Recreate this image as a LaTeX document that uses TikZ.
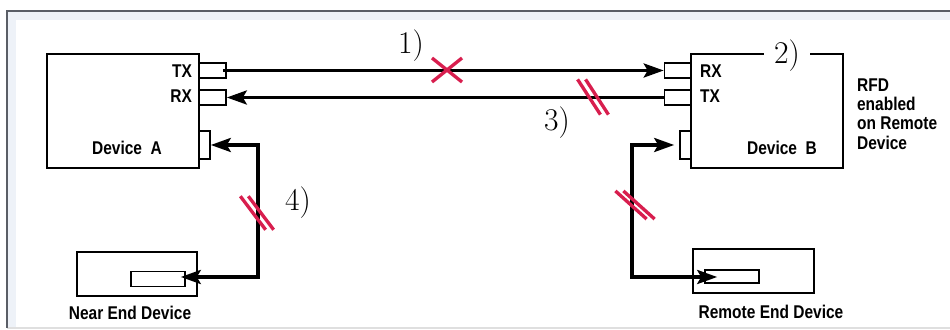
\documentclass[tikz,border=0pt]{standalone}
\usepackage{fontspec}
\usepackage{xcolor}
\usepackage{tikz}
\usetikzlibrary{arrows.meta}
\newfontfamily\lblfont[FakeStretch=0.84]{Liberation Sans}
\definecolor{framegray}{HTML}{5A5E66}
\definecolor{bandblue}{HTML}{EEF2F8}
\definecolor{cutred}{HTML}{D81E4E}

\tikzset{
  box/.style={draw=black, line width=0.9pt, inner sep=0pt},
  port/.style={box, minimum width=0.54cm, minimum height=0.30cm},
  auxport/.style={box, minimum width=0.22cm, minimum height=0.56cm},
  wire/.style={line width=2pt, >={Stealth[length=0.40cm,width=0.28cm,inset=0.08cm]}},
  cut/.style={draw=cutred, line width=1.9pt},
  lbl/.style={font=\lblfont\bfseries\fontsize{10.5}{11}\selectfont, inner sep=1pt},
  num/.style={font=\fontsize{18}{20}\selectfont, inner sep=1pt}
}

\begin{document}
\begin{tikzpicture}[x=0.02cm, y=-0.02cm]
      \useasboundingbox (0,0) rectangle (950,330);
      % frame
      \fill[white] (7,11) rectangle (950,328);
      \fill[bandblue] (8,12) rectangle (16,328);
      \fill[bandblue] (8,12) rectangle (950,20);
      \draw[gray!25, line width=0.8pt] (7,328) -- (950,328);
      \draw[framegray, line width=1pt] (7,328) -- (7,11) -- (950,11);

      % devices
      \node[box, minimum width=3.04cm, minimum height=2.28cm] (devA) at (123,111) {};
      \node[box, minimum width=3.04cm, minimum height=2.28cm] (devB) at (767,111) {};
      \node[port] (txA) at (212.5,70.5) {};
      \node[port] (rxA) at (212.5,97.5) {};
      \node[port] (rxB) at (678,70.5) {};
      \node[port] (txB) at (678,97.5) {};
      \node[auxport] (auxA) at (204.5,145) {};
      \node[auxport] (auxB) at (685.5,145) {};
      \node[lbl, anchor=east] (txAlbl) at (194,71) {TX};
      \node[lbl, anchor=east] (rxAlbl) at (194,96) {RX};
      \node[lbl, anchor=west] (rxBlbl) at (698,71) {RX};
      \node[lbl, anchor=west] (txBlbl) at (698,96) {TX};
      \node[lbl] (devAlbl) at (127,148) {Device\ \ A};
      \node[lbl] (devBlbl) at (782,148) {Device\ \ B};
      \node[lbl, anchor=west, align=left] (rfd) at (855,114)
        {RFD\\enabled\\on Remote\\Device};

      % end devices
      \node[box, minimum width=2.40cm, minimum height=0.88cm] (nearDev) at (137,274) {};
      \node[box, minimum width=1.08cm, minimum height=0.30cm] (nearIn) at (158,279) {};
      \node[box, minimum width=2.42cm, minimum height=0.88cm] (remDev) at (753.5,271) {};
      \node[box, minimum width=1.08cm, minimum height=0.26cm] (remIn) at (732,276.5) {};
      \node[lbl] (nearLbl) at (130,313) {Near End Device};
      \node[lbl] (remLbl) at (771,312) {Remote End Device};

      % links
      \draw[wire, ->] ([xshift=-0.08cm]txA.east) -- (rxB.west);
      \draw[wire, ->] (txB.west) -- (rxA.east);
      \draw[wire, <->] (auxA.east) -- ++(47,0) |- ([xshift=-0.1cm]nearIn.east |- 0,277);
      \draw[wire, <->] ([xshift=-0.1cm]auxB.west) -- ++(-42,0) |- ([xshift=0.26cm]remIn.west |- 0,277);

      % faults
      \draw[cut] (432,58) -- (462,82);
      \draw[cut] (432,82) -- (462,58);
      \foreach \x/\y/\a in {593/97/57, 257/213/53, 635/205/42}
        \foreach \d in {-4,4}
          \draw[cut] (\x+\d,\y) ++(\a:-21) -- ++(\a:42);

      \node[num] (n1) at (411,46) {1)};
      \node[num, fill=white, inner xsep=6pt] (n2) at (787,56) {2)};
      \node[num] (n3) at (557,123) {3)};
      \node[num] (n4) at (298,203) {4)};
    \end{tikzpicture}
\end{document}
